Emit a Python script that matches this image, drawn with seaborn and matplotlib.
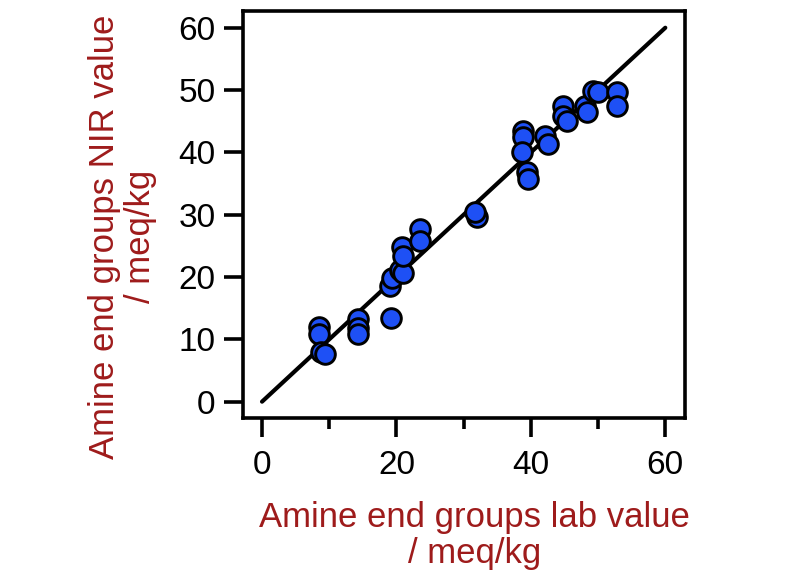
import numpy as np
import pandas as pd
import matplotlib
matplotlib.use("Agg")
import matplotlib.pyplot as plt
from matplotlib.ticker import MultipleLocator
import seaborn as sns

# values
lab_value = [8.5, 8.5, 8.8, 9.3, 14.3, 14.3, 14.3, 19.2,
             19.0, 19.3, 20.5, 21.0, 20.8, 21.0, 23.5, 23.5, 32.0, 31.7,
             38.8, 38.8, 38.7, 39.4, 39.6, 42.1, 42.6, 44.8, 44.8, 45.4,
             48.1, 48.4, 49.3, 50.0, 52.8, 52.8]
nir_value = [12.0, 10.8, 8.0, 7.6, 13.2, 11.9, 10.8, 13.5,
             18.5, 19.9, 21.2, 20.7, 24.8, 23.3, 27.7, 25.7, 29.6, 30.4,
             43.4, 42.4, 40.0, 36.8, 35.7, 42.6, 41.3, 47.4, 45.8, 45.0,
             47.4, 46.5, 49.8, 49.7, 49.7, 47.4]
line_x = [0, 60]
line_y = [0, 60]

df = pd.DataFrame({"lab": lab_value, "nir": nir_value})

sns.set_style("ticks")
plt.rcParams['font.family'] = ['Liberation Sans', 'DejaVu Sans']

fig = plt.figure(figsize=(8, 5.74), dpi=100)
ax = fig.add_axes([0.304, 0.272, 0.552, 0.709])

sns.lineplot(x=line_x, y=line_y, ax=ax, color="black", linewidth=3, zorder=1)
sns.scatterplot(data=df, x="lab", y="nir", ax=ax, s=200, color="#1e50f5",
                edgecolor="black", linewidth=2.1, zorder=3)

ax.set_xlim(-2.8, 62.9)
ax.set_ylim(-2.6, 62.7)
ax.xaxis.set_major_locator(MultipleLocator(20))
ax.xaxis.set_minor_locator(MultipleLocator(10))
ax.yaxis.set_major_locator(MultipleLocator(10))

for s in ax.spines.values():
    s.set_visible(True)
    s.set_linewidth(2.6)
    s.set_color("black")
ax.tick_params(axis="both", which="major", length=14, width=2.6, labelsize=24,
               pad=6, color="black", labelcolor="black")
ax.tick_params(axis="x", which="major", pad=9)
ax.tick_params(axis="x", which="minor", length=8, width=2.6, color="black")

red = "#9e1b1b"
ax.set_xlabel("Amine end groups lab value\n/ meq/kg", fontsize=25, color=red,
              linespacing=1.1)
ax.set_ylabel("Amine end groups NIR value\n/ meq/kg", fontsize=25, color=red,
              linespacing=1.1)
ax.xaxis.set_label_coords(0.523, -0.205)
ax.yaxis.set_label_coords(-0.195, 0.445)

fig.savefig("out.png", dpi=100)
